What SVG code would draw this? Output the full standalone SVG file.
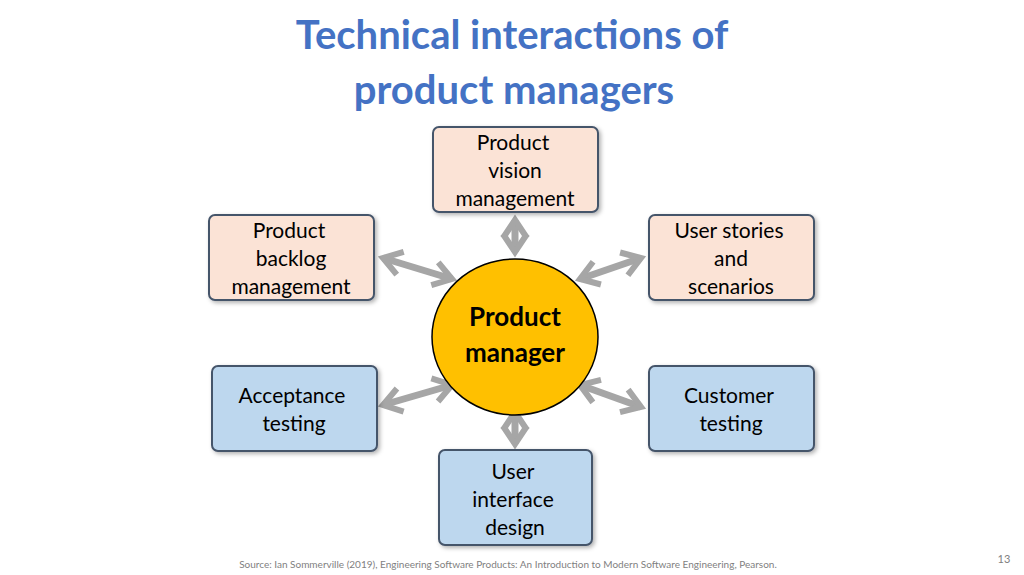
<svg xmlns="http://www.w3.org/2000/svg" width="1024" height="575" viewBox="0 0 1024 575">
<defs>
<style>
.t{font-family:Lato,"Liberation Sans",sans-serif;font-size:21px;fill:#000;text-anchor:middle}
.p{fill:#FBE3D6;stroke:#44546A;stroke-width:2}
.b{fill:#BDD7EE;stroke:#44546A;stroke-width:2}
.c{stroke:#A6A6A6;stroke-width:7;fill:none;marker-start:url(#m);marker-end:url(#m)}
</style>
<filter id="s" x="-10%" y="-10%" width="130%" height="130%"><feDropShadow dx="2" dy="2" stdDeviation="2" flood-opacity="0.3"/></filter>
<marker id="m" markerUnits="userSpaceOnUse" markerWidth="30" markerHeight="30" refX="14" refY="10" viewBox="0 0 20 20" orient="auto-start-reverse">
<path d="M2,2 L14,10 L2,18" fill="none" stroke="#A6A6A6" stroke-width="4"/>
</marker>
</defs>
<rect width="1024" height="575" fill="#fff"/>
<text x="512" y="49" font-family="Lato,'Liberation Sans',sans-serif" font-size="40" font-weight="bold" fill="#4472C4" text-anchor="middle">Technical interactions of</text>
<text x="514" y="104" font-family="Lato,'Liberation Sans',sans-serif" font-size="40" font-weight="bold" fill="#4472C4" text-anchor="middle">product managers</text>
<g id="connectors">
<path class="c" d="M383,258 L452,279"/>
<path class="c" d="M641,258 L580,279"/>
<path class="c" d="M383,405 L452,385"/>
<path class="c" d="M641,407 L580,385"/>
<path class="c" d="M515,220 L515,252"/>
<path class="c" d="M515,412 L515,444"/>
</g>
<g id="vision"><rect class="p" filter="url(#s)" x="433" y="127" width="165" height="85" rx="6"/><text class="t" x="513" y="150">Product</text><text class="t" x="515" y="178">vision</text><text class="t" x="515" y="206">management</text></g>
<g id="backlog"><rect class="p" filter="url(#s)" x="209" y="215" width="165" height="85" rx="6"/><text class="t" x="289" y="238">Product</text><text class="t" x="291" y="266">backlog</text><text class="t" x="291" y="294">management</text></g>
<g id="stories"><rect class="p" filter="url(#s)" x="649" y="215" width="165" height="85" rx="6"/><text class="t" x="729" y="238">User stories</text><text class="t" x="731" y="266">and</text><text class="t" x="731" y="294">scenarios</text></g>
<g id="pm"><ellipse cx="515" cy="337" rx="83" ry="78" fill="#FFC000" stroke="#000" stroke-width="1.5"/><text x="515" y="326" font-family="Lato,'Liberation Sans',sans-serif" font-size="26" font-weight="bold" text-anchor="middle">Product</text><text x="515" y="362" font-family="Lato,'Liberation Sans',sans-serif" font-size="26" font-weight="bold" text-anchor="middle">manager</text></g>
<g id="acceptance"><rect class="b" filter="url(#s)" x="212" y="366" width="165" height="85" rx="6"/><text class="t" x="292" y="403">Acceptance</text><text class="t" x="294" y="431">testing</text></g>
<g id="customer"><rect class="b" filter="url(#s)" x="649" y="366" width="165" height="85" rx="6"/><text class="t" x="729" y="403">Customer</text><text class="t" x="731" y="431">testing</text></g>
<g id="ui"><rect class="b" filter="url(#s)" x="439" y="450" width="153" height="95" rx="6"/><text class="t" x="513" y="479">User</text><text class="t" x="513" y="507">interface</text><text class="t" x="515" y="535">design</text></g>
<text x="508" y="568" font-family="Lato,'Liberation Sans',sans-serif" font-size="10" fill="#7F7F7F" text-anchor="middle">Source: Ian Sommerville (2019), Engineering Software Products:  An Introduction to Modern Software Engineering, Pearson.</text>
<text x="1004" y="563" font-family="Lato,'Liberation Sans',sans-serif" font-size="11" fill="#7F7F7F" text-anchor="middle">13</text>
</svg>
